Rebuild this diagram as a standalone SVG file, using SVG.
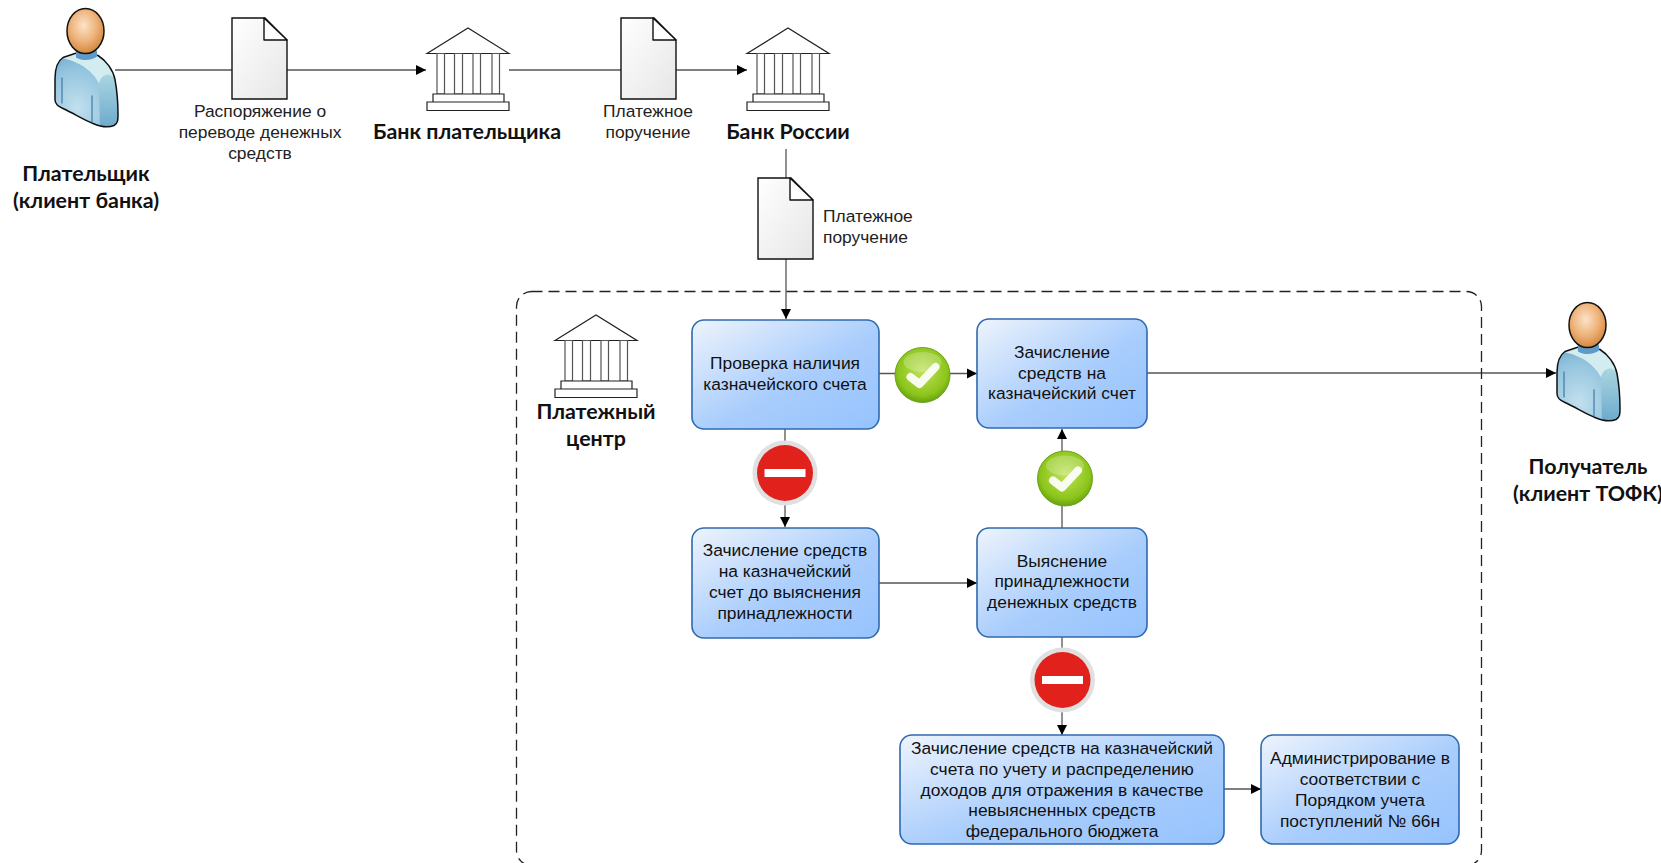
<svg xmlns="http://www.w3.org/2000/svg" width="1661" height="863" viewBox="0 0 1661 863">
<style>
.bold{font-family:Lato,"Open Sans","Liberation Sans",sans-serif;font-weight:700;font-size:21.4px;fill:#111;text-anchor:middle}
.lbl{font-family:"Liberation Sans",Arial,sans-serif;font-size:17.4px;fill:#222;text-anchor:middle}
.start{text-anchor:start}
.box{font-family:"Liberation Sans",Arial,sans-serif;font-size:17.4px;fill:#111;text-anchor:middle}
.shape{fill:url(#boxg);stroke:#2f69b0;stroke-width:1.6}
.conn{fill:none;stroke:#555;stroke-width:1.3}
.bank path{fill:#fff;stroke:#222;stroke-width:1.2}
.bank .col{stroke:#555}
</style>
<defs>
<linearGradient id="boxg" x1="0" y1="0" x2="1" y2="1"><stop offset="0" stop-color="#eef4fc"/><stop offset=".55" stop-color="#a9cdfc"/><stop offset="1" stop-color="#96c3fe"/></linearGradient>
<linearGradient id="docg" x1="0" y1="0" x2="1" y2="1"><stop offset="0" stop-color="#fff"/><stop offset="1" stop-color="#e6e6e6"/></linearGradient>
<radialGradient id="head" cx=".45" cy=".38" r=".65"><stop offset="0" stop-color="#fbe3c8"/><stop offset=".55" stop-color="#eeb27a"/><stop offset="1" stop-color="#d08238"/></radialGradient>
<radialGradient id="body" cx=".35" cy=".75" r=".75"><stop offset="0" stop-color="#c2e0ee"/><stop offset=".7" stop-color="#93c4de"/><stop offset="1" stop-color="#74aed0"/></radialGradient>
<linearGradient id="arm" x1="0" y1="0" x2="0" y2="1"><stop offset="0" stop-color="#a9d6e0"/><stop offset="1" stop-color="#6eaace"/></linearGradient>
<radialGradient id="green" cx=".5" cy=".42" r=".6"><stop offset="0" stop-color="#c0e25e"/><stop offset=".75" stop-color="#8cc51a"/><stop offset="1" stop-color="#5f9c10"/></radialGradient>
<marker id="arr" markerUnits="userSpaceOnUse" markerWidth="11" markerHeight="12" refX="10" refY="6" orient="auto"><path d="M0 1L10 6L0 11Z" fill="#000"/></marker>
<g id="doc"><path d="M0 0H33L55 22V81H0Z" fill="url(#docg)" stroke="#111" stroke-width="1.4"/><path d="M32 0V22H55Z" fill="#fff" stroke="#111" stroke-width="1.4" stroke-linejoin="round"/></g>
<g id="bankicon" class="bank">
<path d="M0 25.500L41 0L82 25.500Z"/>
<path class="col" d="M10 25.500h7.500v40.500h-7.500ZM27.500 25.500h8v40.500h-8ZM46 25.500h7.500v40.500h-7.500ZM65 25.500h7.500v40.500h-7.500Z"/>
<path d="M6 66H77V74H6ZM0 74H82V82.500H0Z"/>
</g>
<g id="person">
<path d="M9 49C3 53 1 60 1 70L1 91C1 96 4 98 9 100C20 105 29 111 39 115C46 118 53 120 60 117C64 115 64 111 64 106C64 95 63 82 61 71C59 61 52 52 44 47L27 43Z" fill="url(#body)"/>
<path d="M9.500 50C14 46 20 44 27 43L44 47.500C52 52.500 58 61 60.500 70C57 67 53 66 49 68C47 70 46 72 45 75C40 64 26 53 9.500 50Z" fill="#d3ecef"/>
<path d="M45 75C46 71 49 67 53 66C57 66 59 68 61 71C63 82 64 95 64 106C64 111 64 115 60 117C53 119 46 118 46 118Z" fill="url(#arm)"/>
<path d="M9 49C3 53 1 60 1 70L1 91C1 96 4 98 9 100C20 105 29 111 39 115C46 118 53 120 60 117C64 115 64 111 64 106C64 95 63 82 61 71C59 61 52 52 44 47L27 43Z" fill="none" stroke="#111" stroke-width="1.5" stroke-linejoin="round"/>
<path d="M8 69V95M38 87V114" fill="none" stroke="#4477a5" stroke-width="1.2"/>
<path d="M22 42V49C29 53 38 52 43 48V42Z" fill="#5f9bc8"/>
<ellipse cx="31.500" cy="22.500" rx="18.500" ry="22.500" fill="url(#head)" stroke="#111" stroke-width="1.5"/>
</g>
<g id="ok"><circle r="27.500" fill="url(#green)" stroke="#6ea31a" stroke-width="1"/><ellipse cy="-13" rx="19" ry="10" fill="#fff" opacity=".22"/><path d="M-12 2L-3 9L13 -8" fill="none" stroke="#fff" stroke-width="8" stroke-linecap="round" stroke-linejoin="round" opacity=".92"/></g>
<g id="no"><circle r="32.500" fill="#e0e0e0"/><circle r="28" fill="#e0211c"/><rect x="-20.500" y="-4" width="41" height="8" fill="#fff"/></g>
</defs>
<rect width="1661" height="863" fill="#fff"/>

<g id="connectors">
<path class="conn" d="M115 70H426" marker-end="url(#arr)"/>
<path class="conn" d="M509 70H747" marker-end="url(#arr)"/>
<path class="conn" d="M786 149V319" marker-end="url(#arr)"/>
<path class="conn" d="M879 373.500H977" marker-end="url(#arr)"/>
<path class="conn" d="M785 429V527" marker-end="url(#arr)"/>
<path class="conn" d="M1147 373H1556" marker-end="url(#arr)"/>
<path class="conn" d="M1062 528V429" marker-end="url(#arr)"/>
<path class="conn" d="M879 583H977" marker-end="url(#arr)"/>
<path class="conn" d="M1062 637V735" marker-end="url(#arr)"/>
<path class="conn" d="M1224 789H1261" marker-end="url(#arr)"/>
</g>

<g id="boundary"><rect x="516.500" y="291.500" width="965" height="574" rx="15" fill="none" stroke="#222" stroke-width="1.3" stroke-dasharray="11 6"/></g>

<g id="payer"><use href="#person" x="54" y="8.500"/><text class="bold" x="86" y="180.500">Плательщик</text><text class="bold" x="86" y="207.500">(клиент банка)</text></g>
<g id="doc1"><use href="#doc" x="232" y="18"/><text class="lbl" x="260" y="117">Распоряжение о</text><text class="lbl" x="260" y="138">переводе денежных</text><text class="lbl" x="260" y="159">средств</text></g>
<g id="bank-payer"><use href="#bankicon" x="427" y="28"/><text class="bold" x="467" y="138.500">Банк плательщика</text></g>
<g id="doc2"><use href="#doc" x="621" y="18"/><text class="lbl" x="648" y="117">Платежное</text><text class="lbl" x="648" y="138">поручение</text></g>
<g id="bank-russia"><use href="#bankicon" x="747" y="28"/><text class="bold" x="788" y="138.500">Банк России</text></g>
<g id="doc3"><use href="#doc" x="758" y="178"/><text class="lbl start" x="823" y="222">Платежное</text><text class="lbl start" x="823" y="243">поручение</text></g>
<g id="payment-center"><use href="#bankicon" x="555" y="315"/><text class="bold" x="596" y="418.500">Платежный</text><text class="bold" x="596" y="445.500">центр</text></g>
<g id="recipient"><use href="#person" x="1556" y="302.500"/><text class="bold" x="1588" y="473.500">Получатель</text><text class="bold" x="1588" y="500.500">(клиент ТОФК)</text></g>

<g id="check-account"><rect class="shape" x="692" y="320" width="187" height="109" rx="12"/><text class="box" x="785" y="369">Проверка наличия</text><text class="box" x="785" y="390">казначейского счета</text></g>
<g id="credit"><rect class="shape" x="977" y="319" width="170" height="109" rx="12"/><text class="box" x="1062" y="358">Зачисление</text><text class="box" x="1062" y="379">средств на</text><text class="box" x="1062" y="399">казначейский счет</text></g>
<g id="credit-pending"><rect class="shape" x="692" y="528" width="187" height="110" rx="12"/><text class="box" x="785" y="556">Зачисление средств</text><text class="box" x="785" y="577">на казначейский</text><text class="box" x="785" y="598">счет до выяснения</text><text class="box" x="785" y="619">принадлежности</text></g>
<g id="clarify"><rect class="shape" x="977" y="528" width="170" height="109" rx="12"/><text class="box" x="1062" y="567">Выяснение</text><text class="box" x="1062" y="587">принадлежности</text><text class="box" x="1062" y="608">денежных средств</text></g>
<g id="credit-unclear"><rect class="shape" x="900" y="735" width="324" height="109" rx="12"/><text class="box" x="1062" y="753.500">Зачисление средств на казначейский</text><text class="box" x="1062" y="774.500">счета по учету и распределению</text><text class="box" x="1062" y="795.500">доходов для отражения в качестве</text><text class="box" x="1062" y="816">невыясненных средств</text><text class="box" x="1062" y="836.500">федерального бюджета</text></g>
<g id="admin"><rect class="shape" x="1261" y="735" width="198" height="109" rx="12"/><text class="box" x="1360" y="764">Администрирование в</text><text class="box" x="1360" y="785">соответствии с</text><text class="box" x="1360" y="806">Порядком учета</text><text class="box" x="1360" y="826.500">поступлений № 66н</text></g>

<g id="ok1"><use href="#ok" x="922.500" y="375"/></g>
<g id="ok2"><use href="#ok" x="1065" y="478.500"/></g>
<g id="no1"><use href="#no" x="785" y="473"/></g>
<g id="no2"><use href="#no" x="1062.500" y="680"/></g>
</svg>
